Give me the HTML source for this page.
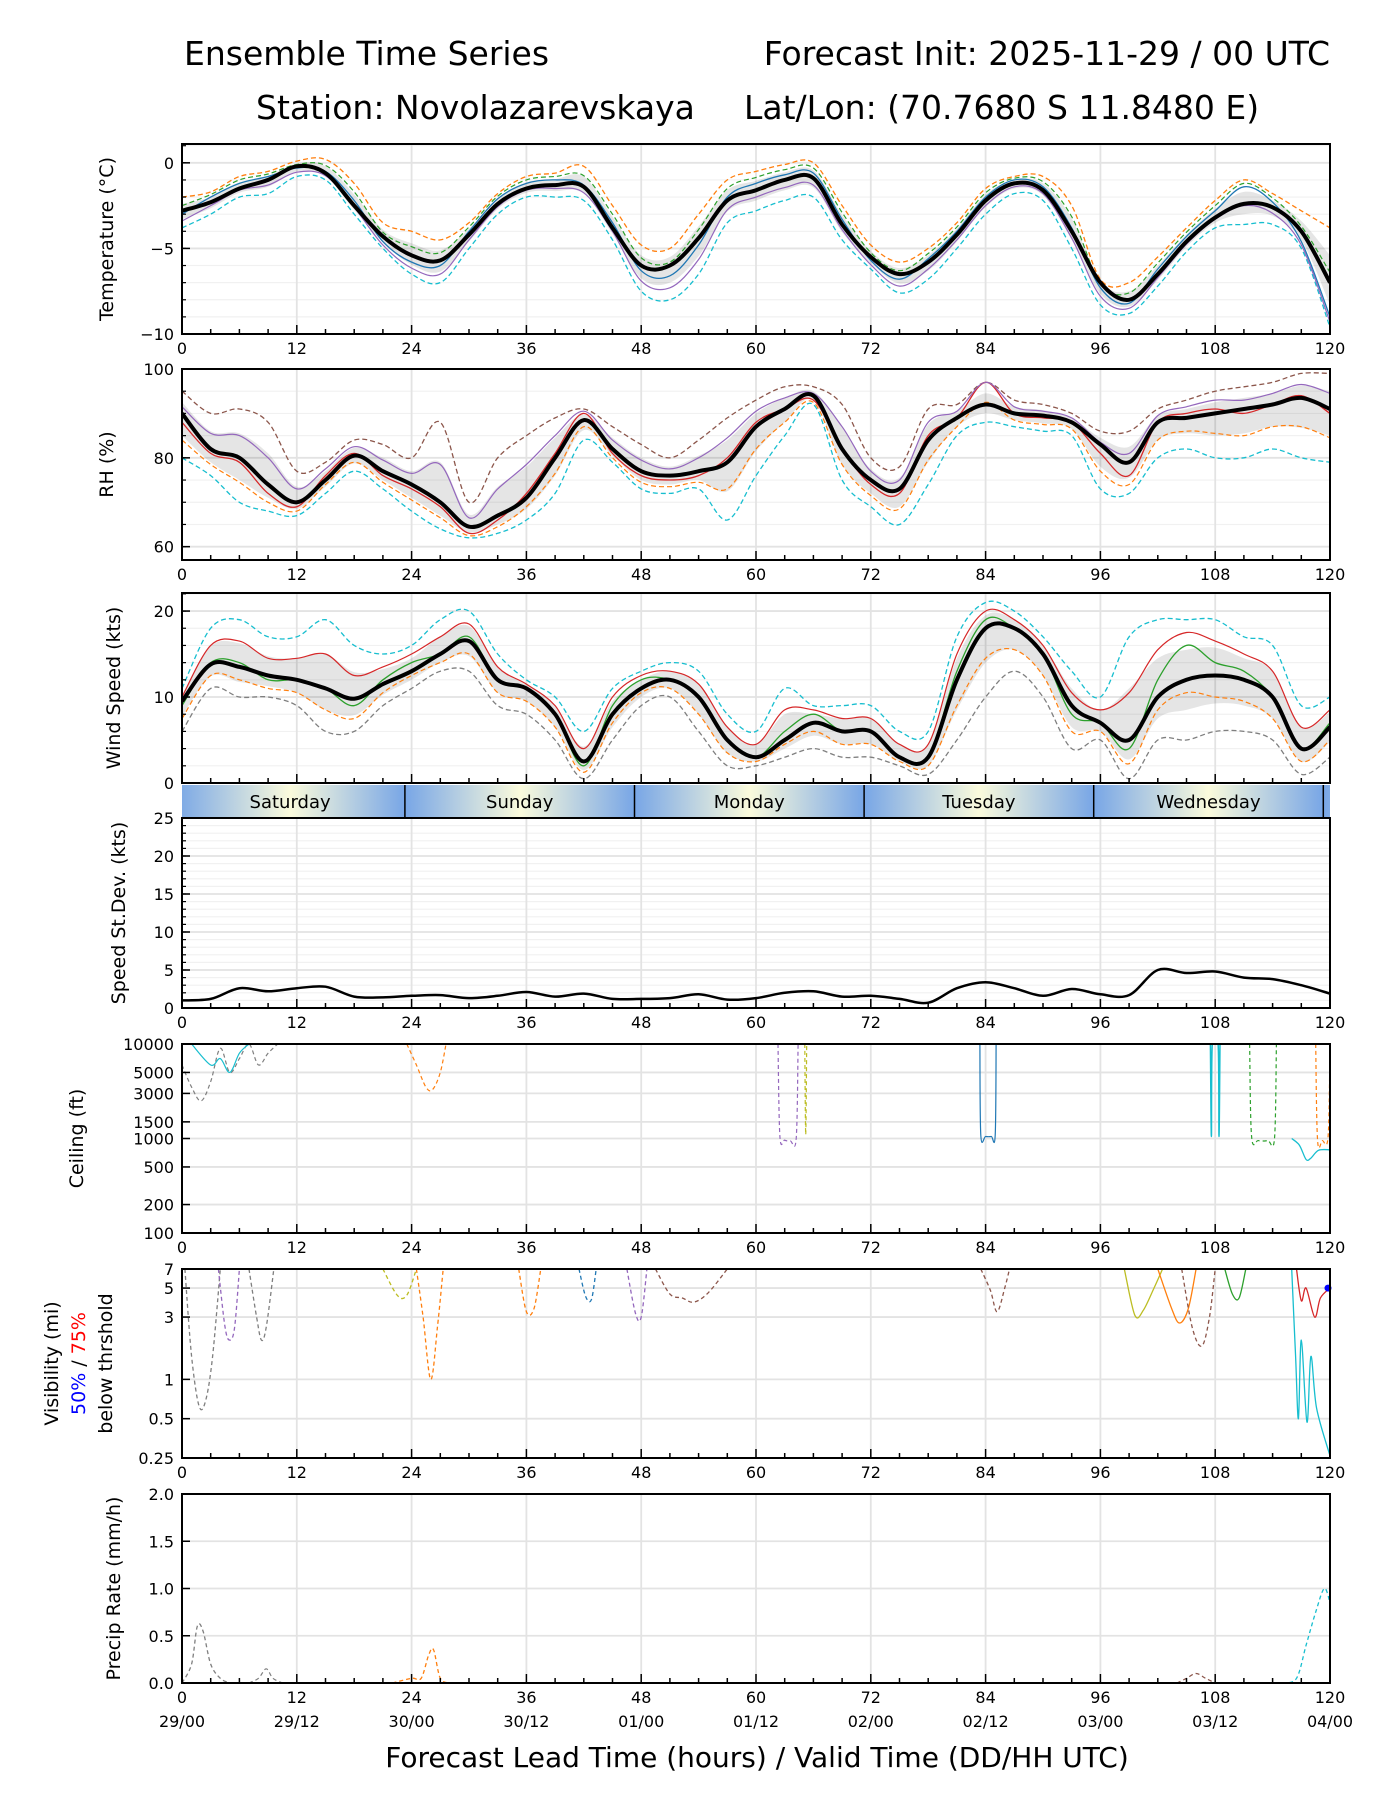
<!DOCTYPE html>
<html><head><meta charset="utf-8">
<style>
html,body{margin:0;padding:0;background:#fff;}
svg{display:block;font-family:"DejaVu Sans","Liberation Sans",sans-serif;}
</style></head>
<body>
<svg id="fig" width="1400" height="1800" viewBox="0 0 1400 1800" xmlns="http://www.w3.org/2000/svg">
<text x="184" y="65" font-size="33">Ensemble Time Series</text>
<text x="1330" y="65" font-size="33" text-anchor="end">Forecast Init: 2025-11-29 / 00 UTC</text>
<text x="256" y="119" font-size="33">Station: Novolazarevskaya</text>
<text x="744" y="119" font-size="33">Lat/Lon: (70.7680 S 11.8480 E)</text>
<text x="757" y="1767" font-size="28" text-anchor="middle">Forecast Lead Time (hours) / Valid Time (DD/HH UTC)</text>
</svg>
<script>
// ---------- data ----------
const hours3 = [0,3,6,9,12,15,18,21,24,27,30,33,36,39,42,45,48,51,54,57,60,63,66,69,72,75,78,81,84,87,90,93,96,99,102,105,108,111,114,117,120];
const tempMean = [-2.8,-2.3,-1.5,-1.0,-0.2,-0.6,-2.5,-4.3,-5.4,-5.7,-4.2,-2.4,-1.5,-1.3,-1.4,-3.8,-6.0,-6.0,-4.4,-2.2,-1.6,-1.0,-0.9,-3.6,-5.5,-6.5,-5.8,-4.2,-2.2,-1.2,-1.6,-4.0,-7.0,-8.0,-6.5,-4.6,-3.2,-2.4,-2.6,-4.0,-7.0];
const tempLo = [-3.8,-3,-2,-1.8,-0.8,-1,-3,-5,-6.5,-7,-5,-3,-2,-2,-2.2,-4.5,-7.5,-8,-6.5,-3.5,-2.8,-2.2,-2,-4.5,-6.2,-7.6,-6.8,-5,-3,-1.8,-2.2,-5,-8.3,-8.8,-7.2,-5.2,-3.8,-3.6,-3.6,-5,-9.6];
const tempHi = [-2,-1.7,-0.8,-0.5,0.1,0.2,-1.2,-3.5,-4,-4.5,-3.5,-1.8,-0.8,-0.6,-0.2,-2.5,-4.8,-5,-3,-1,-0.5,-0.1,0,-2.5,-4.8,-5.8,-5,-3.5,-1.5,-0.8,-0.8,-2.5,-6.8,-7,-5.5,-3.8,-2.2,-1,-1.8,-2.8,-3.8];
const tempM1 = [-3,-2.0,-1.2,-0.8,-0.3,-0.5,-2.2,-4.6,-5.8,-6.0,-4.0,-2.1,-1.2,-1.0,-1.3,-3.5,-6.3,-6.6,-4.8,-2.0,-1.2,-0.7,-0.6,-3.3,-5.7,-6.8,-5.6,-4.0,-2.0,-1.0,-1.4,-3.8,-7.3,-8.2,-6.2,-4.3,-2.8,-1.4,-2.3,-4.6,-9.0];
const rhMean = [90,82,80,74,70,75,80.5,77,74,70,64.5,67,71,80,88.5,82,77,76,77,79,87,91,94,82,75,73,84,89,92,90,89.5,88,83,79,88,89,90,91,92,93.5,91];
const rhLo = [80,76,70,68,67,72,77,73,68,64,62,63,66,72,84,79,73,72,73,66,76,85,92,75,69,65,74,85,88,87,86,85,73,72,80,82,80,80,82,80,79];
const rhHi = [95,90,91,88,77,79,84,83,80,88,70,80,85,89,91,87,83,80,84,89,93,96,96,92,80,78,91,92,97,93,92,90,86,86,91,93,95,96,97,99,99];
const rhM1 = [88,81,79,72,69,76,81,76,73,69,63,66,72,81,90,81,76,75,76,80,88,91,93,82,74,72,85,89,97,90,89,88,81,76,88,90,91,90,92,94,90];
const windMean = [9.5,13.8,13.5,12.5,12,11,9.8,11.5,13,15,16.5,12,11,8,2.5,8,11,12,10,5,3,5,7,6,6,3,3,12,18,18,15,9,7,5,10,12,12.5,12,10,4,6.5];
const windLo = [6,11,10,10,9,6,6,9,11,13,13,9,8,5,0.5,5,9,10,6,2,2,3,4,3,3,2,1,5,10,13,10,4,5,0.5,5,5,6,6,5,1,3];
const windHi = [11,18,19,17,17,19,16,15,16,19,20,15,12,10,6,11,13,14,13,8,6,11,9,9,9,6,6,17,21,20,17,13,10,17,19,19,19,17,16,9,10];
const windM1 = [9,14,14,12,12,11,9,12,14,15,17,12,11,8,2,9,12,12,10,5,3,6,8,6,6,3,3,13,19,18,15,8,7,4,12,16,14,13,10,4,7];
const sdVals = [1,1.2,2.6,2.2,2.6,2.8,1.5,1.4,1.6,1.7,1.3,1.6,2.1,1.5,1.9,1.2,1.2,1.3,1.8,1.1,1.3,2.0,2.2,1.5,1.6,1.2,0.7,2.6,3.4,2.6,1.6,2.5,1.8,1.7,5.0,4.6,4.8,4.0,3.8,3.0,1.9];
const dayNames = ["Saturday","Sunday","Monday","Tuesday","Wednesday"];
const dayStarts = [-0.7,23.3,47.3,71.3,95.3,119.3];
const xTicks = [0,12,24,36,48,60,72,84,96,108,120];
const dateLabels = ["29/00","29/12","30/00","30/12","01/00","01/12","02/00","02/12","03/00","03/12","04/00"];
const tempTicks = [0,-5,-10];
const rhTicks = [60,80,100];
const windTicks = [0,10,20];
const sdTicks = [0,5,10,15,20,25];
const ceilTicks = [100,200,500,1000,1500,3000,5000,10000];
const visTicks = [0.25,0.5,1,3,5,7];
const precipTicks = [0,0.5,1,1.5,2];
// ceiling member traces (hour, ft)
const ceilPurpleH = [62.3,62.5,63,63.6,64.2,64.4]; const ceilPurpleV = [10000,1050,960,940,1000,10000];
const ceilOliveH = [65.1,65.2,65.3]; const ceilOliveV = [10000,1100,10000];
const ceilBlueH = [83.4,83.5,84,84.6,85,85.1]; const ceilBlueV = [10000,1080,1050,1050,1080,10000];
const ceilCyanH = [107.5,107.6,107.7,108.3,108.4,108.5]; const ceilCyanV = [10000,1050,10000,10000,1050,10000];
const ceilGreenH = [111.6,111.8,112.5,113.5,114.2,114.4]; const ceilGreenV = [10000,1050,950,950,1000,10000];
const ceilCyan2H = [116,116.8,117.5,118,118.8,120]; const ceilCyan2V = [1000,850,600,620,750,760];
const ceilOrangeH = [118.5,118.7,119.2,119.8,120]; const ceilOrangeV = [10000,950,950,1050,10000];
const ceilEarlyH = [0,1,2,3,4,5,6,7,8,9,10]; const ceilEarlyV = [6000,3500,2500,4000,9000,5000,7000,10000,6000,8000,10000];
const ceilEarly2H = [1,3,4,5,6,7]; const ceilEarly2V = [10000,6000,7000,5000,8000,10000];
const ceilOr24H = [23.5,24.5,25.5,26.2,27,27.6]; const ceilOr24V = [10000,6000,3500,3300,5000,10000];
// visibility member traces (hour, mi)
const visGreyH = [0.3,1,1.8,2.5,3.2,4]; const visGreyV = [7,1.5,0.62,0.7,1.5,7];
const visPurpleH = [3.8,4.5,5,5.5,6]; const visPurpleV = [7,2.5,2,2.5,7];
const visGrey2H = [7,7.8,8.3,8.8,9.6]; const visGrey2V = [7,3,2,2.5,7];
const visOrangeH = [24.5,25.2,26,26.7,27.3]; const visOrangeV = [7,3,1,2.5,7];
const visOliveH = [21,22.5,23.5,24.5]; const visOliveV = [7,4.4,4.4,7];
const visOr36H = [35.2,36,36.8,37.5]; const visOr36V = [7,3.3,3.5,7];
const visBlueH = [41.5,42.2,42.8,43.3]; const visBlueV = [7,4.3,4.1,7];
const visPurple48H = [46.5,47.4,48,48.6]; const visPurple48V = [7,3.2,3.0,7];
const visBrownH = [49.5,51,52.3,53.5,55,57]; const visBrownV = [7,4.5,4.2,3.9,4.6,7];
const visBrown84H = [83.5,84.5,85.2,86,86.5]; const visBrown84V = [7,4.8,3.3,5,7];
const visOliveBH = [98.5,99.6,100.5,101.6,102.5]; const visOliveBV = [7,3.1,3.4,5,7];
const visOrangeBH = [102,103.5,104.3,105.2,106]; const visOrangeBV = [7,3.4,2.7,3.5,7];
const visBrownBH = [104.5,105.6,106.6,107.4,108]; const visBrownBV = [7,2.5,1.8,3,7];
const visGreenH = [109,109.8,110.5,111.2]; const visGreenV = [7,4.5,4.2,7];
const visCyanH = [116,116.4,116.7,117,117.6,118,118.6,120]; const visCyanV = [7,1.5,0.5,2,0.47,1.5,0.6,0.26];
const visRedH = [116.5,117,117.5,118.4,119,120]; const visRedV = [7,4,5,3,4.2,5];
// precip member traces (hour, mm/h)
const prGreyH = [0,1,1.6,2.2,3,4,5]; const prGreyV = [0,0.2,0.6,0.55,0.2,0.05,0];
const prOrangeH = [22,24,25,25.8,26.3,27,28]; const prOrangeV = [0,0.05,0.05,0.3,0.35,0.05,0];
const prCyanH = [115,116.5,117.5,118.5,119.4,120]; const prCyanV = [0,0.05,0.4,0.75,1.0,0.85];
const prSmallH = [7,8,8.8,9.5,10.5]; const prSmallV = [0,0.05,0.15,0.05,0];
const prSmall2H = [104,105,106,107,108]; const prSmall2V = [0,0.05,0.1,0.05,0];

// ---------- layout ----------
const L = 182, R = 1330;
const svg = document.getElementById('fig');
const NS = 'http://www.w3.org/2000/svg';
function mk(tag, attrs, parent){ const e=document.createElementNS(NS,tag); for(const k in attrs) e.setAttribute(k,attrs[k]); (parent||svg).appendChild(e); return e; }
function xS(h){ return L + h/120*(R-L); }
function linS(min,max,y0,y1){ return v => y1 - (v-min)/(max-min)*(y1-y0); }
function logS(min,max,y0,y1){ return v => y1 - (Math.log(v)-Math.log(min))/(Math.log(max)-Math.log(min))*(y1-y0); }
function smoothPath(hs, vs, yS){
  const p = hs.map((h,i)=>[xS(h), yS(vs[i])]);
  let d = 'M'+p[0][0].toFixed(1)+','+p[0][1].toFixed(1);
  for(let i=0;i<p.length-1;i++){
    const p0=p[Math.max(0,i-1)], p1=p[i], p2=p[i+1], p3=p[Math.min(p.length-1,i+2)];
    const c1=[p1[0]+(p2[0]-p0[0])/6, p1[1]+(p2[1]-p0[1])/6];
    const c2=[p2[0]-(p3[0]-p1[0])/6, p2[1]-(p3[1]-p1[1])/6];
    d+=' C'+c1[0].toFixed(1)+','+c1[1].toFixed(1)+' '+c2[0].toFixed(1)+','+c2[1].toFixed(1)+' '+p2[0].toFixed(1)+','+p2[1].toFixed(1);
  }
  return d;
}
let clipN = 0;
function panel(name, y0, y1, yS, ticks, fmt, minorVals, ylabel, noXLabels){
  const g = mk('g',{});
  
  
  const cid = 'clip'+(clipN++);
  const cp = mk('clipPath',{id:cid}, g);
  mk('rect',{x:L,y:y0,width:R-L,height:y1-y0},cp);
  minorVals.forEach(v=>{ const y=yS(v); mk('line',{x1:L,x2:R,y1:y,y2:y,stroke:'#f1f1f1','stroke-width':1.2},g); });
  ticks.forEach(v=>{ const y=yS(v); mk('line',{x1:L,x2:R,y1:y,y2:y,stroke:'#e3e3e3','stroke-width':1.8},g); });
  xTicks.forEach(h=>{ mk('line',{x1:xS(h),x2:xS(h),y1:y0,y2:y1,stroke:'#e3e3e3','stroke-width':1.8},g); });
  const plot = mk('g',{'clip-path':'url(#'+cid+')'},g);
  
  
  for(let h=0;h<=120;h+=3){ const major=h%12===0; mk('line',{x1:xS(h),x2:xS(h),y1:y1,y2:y1-(major?9:5),stroke:'#000','stroke-width':1.5},g); }
  ticks.forEach(v=>{ const y=yS(v); mk('line',{x1:L,x2:L+8,y1:y,y2:y,stroke:'#000','stroke-width':1.5},g);
    const t=mk('text',{x:L-8,y:y+6,'font-size':16,'text-anchor':'end'},g); t.textContent=fmt(v);
    
     });
  minorVals.forEach(v=>{ const y=yS(v); mk('line',{x1:L,x2:L+4,y1:y,y2:y,stroke:'#000','stroke-width':1.2},g); });
  if(!noXLabels) xTicks.forEach(h=>{ const t=mk('text',{x:xS(h),y:y1+20,'font-size':16,'text-anchor':'middle'},g); t.textContent=String(h);
    
     });
  if(ylabel){ const t=mk('text',{transform:'translate('+ylabel.x+','+((y0+y1)/2)+') rotate(-90)','font-size':19,'text-anchor':'middle'},g); t.textContent=ylabel.text;
    
     }
  return {g, plot, finish(){ const b=mk('rect',{x:L,y:y0,width:R-L,height:y1-y0,fill:'none',stroke:'#000','stroke-width':2},g);
    
     }};
}
function line(parent, hs, vs, yS, color, w, dash, nm){
  const p = mk('path',{d:smoothPath(hs,vs,yS),fill:'none',stroke:color,'stroke-width':w,'stroke-linejoin':'round'},parent);
  if(dash) p.setAttribute('stroke-dasharray', dash);
  
  
  return p;
}
function band(parent, hs, lo, hi, mean, yS, nm){
  const up = hi.map((v,i)=>(v+mean[i])/2), dn = lo.map((v,i)=>(v+mean[i])/2);
  const a = smoothPath(hs, up, yS);
  const b = smoothPath(hs.slice().reverse(), dn.slice().reverse(), yS).replace(/^M/,'L');
  const p = mk('path',{d:a+' '+b+' Z',fill:'#000','fill-opacity':0.1,stroke:'none'},parent);
  
  
}
function range(a,b,s){ const r=[]; for(let v=a; v<=b+1e-9; v+=s) r.push(+v.toFixed(3)); return r; }

// ---------- temperature ----------
{
  const y0=144,y1=334, yS=linS(-10,1.1,y0,y1);
  const P = panel('temperature',y0,y1,yS,tempTicks,v=>v<0?'\u2212'+Math.abs(v):String(v),range(-9,1,1),{x:113,text:'Temperature (\u00b0C)'});
  band(P.plot,hours3,tempLo,tempHi,tempMean,yS,'temperature-spread-band');
  line(P.plot,hours3,tempLo,yS,'#17becf',1.3,'5,3','temperature-member-low');
  line(P.plot,hours3,tempHi,yS,'#ff7f0e',1.3,'5,3','temperature-member-high');
  line(P.plot,hours3,tempM1,yS,'#1f77b4',1.3,null,'temperature-member-1');
  line(P.plot,hours3,tempM1.map((v,i)=>(v+tempLo[i])/2),yS,'#9467bd',1.2,null,'temperature-member-2');
  line(P.plot,hours3,tempM1.map((v,i)=>(v+tempHi[i])/2),yS,'#2ca02c',1.2,'5,3','temperature-member-3');
  line(P.plot,hours3,tempMean,yS,'#000',4,null,'temperature-mean-line');
  P.finish();
}
// ---------- RH ----------
{
  const y0=369,y1=560, yS=linS(57,100,y0,y1);
  const P = panel('rh',y0,y1,yS,rhTicks,v=>String(v),range(60,95,5),{x:113,text:'RH (%)'});
  band(P.plot,hours3,rhLo,rhHi,rhMean,yS,'rh-spread-band');
  line(P.plot,hours3,rhLo,yS,'#17becf',1.3,'5,3','rh-member-low');
  line(P.plot,hours3,rhHi,yS,'#8c564b',1.3,'5,3','rh-member-high');
  line(P.plot,hours3,rhM1,yS,'#d62728',1.3,null,'rh-member-1');
  line(P.plot,hours3,rhM1.map((v,i)=>(v+rhLo[i])/2),yS,'#ff7f0e',1.2,'5,3','rh-member-2');
  line(P.plot,hours3,rhM1.map((v,i)=>(v+rhHi[i])/2),yS,'#9467bd',1.2,null,'rh-member-3');
  line(P.plot,hours3,rhMean,yS,'#000',4,null,'rh-mean-line');
  P.finish();
}
// ---------- wind ----------
{
  const y0=593,y1=783, yS=linS(0,22.1,y0,y1);
  const P = panel('wind',y0,y1,yS,windTicks,v=>String(v),range(2,22,2),{x:120,text:'Wind Speed (kts)'},true);
  band(P.plot,hours3,windLo,windHi,windMean,yS,'wind-spread-band');
  line(P.plot,hours3,windLo,yS,'#7f7f7f',1.3,'5,3','wind-member-low');
  line(P.plot,hours3,windHi,yS,'#17becf',1.3,'5,3','wind-member-high');
  line(P.plot,hours3,windM1,yS,'#2ca02c',1.3,null,'wind-member-1');
  line(P.plot,hours3,windM1.map((v,i)=>(v+windLo[i])/2),yS,'#ff7f0e',1.2,'5,3','wind-member-2');
  line(P.plot,hours3,windM1.map((v,i)=>(v+windHi[i])/2),yS,'#d62728',1.2,null,'wind-member-3');
  line(P.plot,hours3,windMean,yS,'#000',4,null,'wind-mean-line');
  P.finish();
}
// ---------- day strip ----------
{
  const y0=785,y1=818;
  const defs = mk('defs',{});
  const gr = mk('linearGradient',{id:'dayGrad',x1:0,x2:1,y1:0,y2:0},defs);
  mk('stop',{offset:'0','stop-color':'#78a6e6'},gr);
  mk('stop',{offset:'0.5','stop-color':'#fbfbdc'},gr);
  mk('stop',{offset:'1','stop-color':'#78a6e6'},gr);
  const g = mk('g',{});
  
  
  for(let i=0;i<dayStarts.length;i++){
    const a = dayStarts[i], b = i<dayStarts.length-1 ? dayStarts[i+1] : 143.3;
    const xa = Math.max(L,xS(a)), xb = Math.min(R,xS(b));
    const cl = mk('clipPath',{id:'dclip'+i},defs);
    mk('rect',{x:xa,y:y0,width:xb-xa,height:y1-y0},cl);
    const r = mk('rect',{x:xS(a),y:y0,width:xS(b)-xS(a),height:y1-y0,fill:'url(#dayGrad)','clip-path':'url(#dclip'+i+')'},g);
    
    
    if(i>0) mk('line',{x1:xS(a),x2:xS(a),y1:y0,y2:y1,stroke:'#000','stroke-width':1.5},g);
    if(i<dayNames.length){
      const t = mk('text',{x:(xS(a)+xS(b))/2,y:y0+23,'font-size':18,'text-anchor':'middle'},g);
      t.textContent = dayNames[i];
      
      
    }
  }
}
// ---------- speed std dev ----------
{
  const y0=818,y1=1008, yS=linS(0,25,y0,y1);
  const P = panel('speed-stdev',y0,y1,yS,sdTicks,v=>String(v),range(1,24,1),{x:125,text:'Speed St.Dev. (kts)'});
  line(P.plot,hours3,sdVals,yS,'#000',2.5,null,'speed-stdev-line');
  P.finish();
}
// ---------- ceiling ----------
{
  const y0=1044,y1=1233, yS=logS(100,10000,y0,y1);
  const P = panel('ceiling',y0,y1,yS,ceilTicks,v=>String(v),[],{x:83,text:'Ceiling (ft)'});
  line(P.plot,ceilEarlyH,ceilEarlyV,yS,'#7f7f7f',1.2,'4,3','ceiling-member-early-1');
  line(P.plot,ceilEarly2H,ceilEarly2V,yS,'#17becf',1.2,null,'ceiling-member-early-2');
  line(P.plot,ceilOr24H,ceilOr24V,yS,'#ff7f0e',1.2,'4,3','ceiling-member-orange');
  line(P.plot,ceilPurpleH,ceilPurpleV,yS,'#9467bd',1.2,'4,3','ceiling-member-purple');
  line(P.plot,ceilOliveH,ceilOliveV,yS,'#bcbd22',1.2,'4,3','ceiling-member-olive');
  line(P.plot,ceilBlueH,ceilBlueV,yS,'#1f77b4',1.2,null,'ceiling-member-blue');
  line(P.plot,ceilCyanH,ceilCyanV,yS,'#17becf',1.5,null,'ceiling-member-cyan');
  line(P.plot,ceilGreenH,ceilGreenV,yS,'#2ca02c',1.2,'4,3','ceiling-member-green');
  line(P.plot,ceilCyan2H,ceilCyan2V,yS,'#17becf',1.3,null,'ceiling-member-cyan-2');
  line(P.plot,ceilOrangeH,ceilOrangeV,yS,'#ff7f0e',1.2,'4,3','ceiling-member-orange-2');
  P.finish();
}
// ---------- visibility ----------
{
  const y0=1269,y1=1458, yS=logS(0.25,7,y0,y1);
  const P = panel('visibility',y0,y1,yS,visTicks,v=>String(v),[],null);
  const tr = [[visGreyH,visGreyV,'#7f7f7f','4,3'],[visPurpleH,visPurpleV,'#9467bd','4,3'],[visGrey2H,visGrey2V,'#7f7f7f','4,3'],
    [visOrangeH,visOrangeV,'#ff7f0e','4,3'],[visOliveH,visOliveV,'#bcbd22','4,3'],[visOr36H,visOr36V,'#ff7f0e','4,3'],
    [visBlueH,visBlueV,'#1f77b4','4,3'],[visPurple48H,visPurple48V,'#9467bd','4,3'],[visBrownH,visBrownV,'#8c564b','4,3'],
    [visBrown84H,visBrown84V,'#8c564b','4,3'],[visOliveBH,visOliveBV,'#bcbd22',null],[visOrangeBH,visOrangeBV,'#ff7f0e',null],
    [visBrownBH,visBrownBV,'#8c564b','4,3'],[visGreenH,visGreenV,'#2ca02c',null],[visCyanH,visCyanV,'#17becf',null],[visRedH,visRedV,'#d62728',null]];
  tr.forEach(t=>{ line(P.plot,t[0],t[1],yS,t[2],1.3,t[3],'visibility-member'); });
  const dot = mk('circle',{cx:xS(120)-2,cy:yS(5),r:3.5,fill:'#0000ff'},P.g);
  
  
  P.finish();
  const cy = (y0+y1)/2;
  const t1 = mk('text',{transform:'translate(58,'+cy+') rotate(-90)','font-size':19,'text-anchor':'middle'});
  t1.textContent='Visibility (mi)';
  
  
  const t2 = mk('text',{transform:'translate(85,'+cy+') rotate(-90)','font-size':19,'text-anchor':'middle'});
  t2.innerHTML='<tspan fill="#0000ff">50%</tspan> / <tspan fill="#ff0000">75%</tspan>';
  
  
  const t3 = mk('text',{transform:'translate(112,'+cy+') rotate(-90)','font-size':19,'text-anchor':'middle'});
  t3.textContent='below thrshold';
  
  
}
// ---------- precip ----------
{
  const y0=1494,y1=1683, yS=linS(0,2,y0,y1);
  const P = panel('precip',y0,y1,yS,precipTicks,v=>v.toFixed(1),[],{x:120,text:'Precip Rate (mm/h)'});
  line(P.plot,prGreyH,prGreyV,yS,'#7f7f7f',1.3,'4,3','precip-member-grey');
  line(P.plot,prOrangeH,prOrangeV,yS,'#ff7f0e',1.3,'4,3','precip-member-orange');
  line(P.plot,prCyanH,prCyanV,yS,'#17becf',1.3,'4,3','precip-member-cyan');
  line(P.plot,prSmallH,prSmallV,yS,'#7f7f7f',1.2,'4,3','precip-member-small');
  line(P.plot,prSmall2H,prSmall2V,yS,'#8c564b',1.2,'4,3','precip-member-small-2');
  P.finish();
  xTicks.forEach((h,i)=>{ const t=mk('text',{x:xS(h),y:y1+44,'font-size':16,'text-anchor':'middle'}); t.textContent=dateLabels[i];
    
     });
}
</script>
</body></html>
